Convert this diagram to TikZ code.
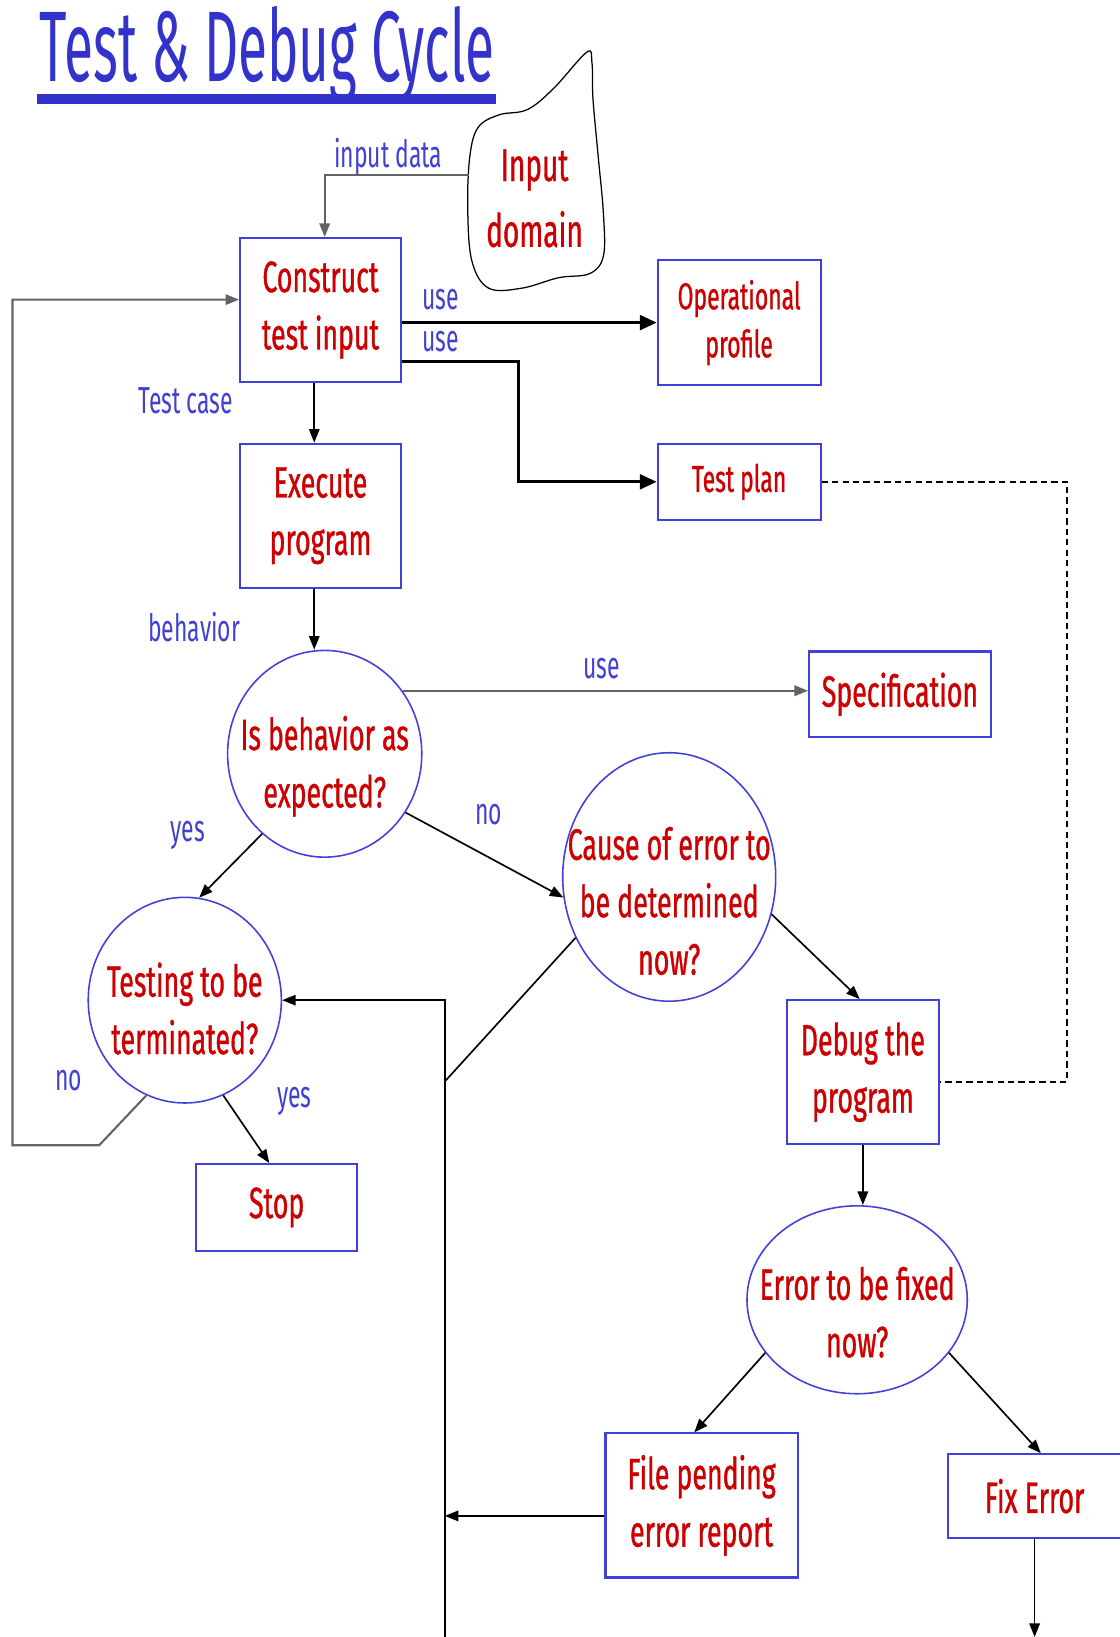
\documentclass[tikz,border=0pt]{standalone}
\usepackage{fontspec}
\setmainfont[FakeStretch=0.61,FakeBold=0.8]{Fira Sans}
\newfontfamily\dgtitlefont[FakeStretch=0.53]{Fira Sans}
\newfontfamily\dglabelfam[FakeStretch=0.61]{Fira Sans}
\usetikzlibrary{shapes.geometric,arrows.meta,calc}
\definecolor{txtred}{RGB}{204,0,0}
\definecolor{bblue}{RGB}{64,64,220}
\definecolor{lblue}{RGB}{64,64,210}
\definecolor{tblue}{RGB}{51,51,204}
\definecolor{lgray}{RGB}{100,100,100}
\newcommand\dgnodefont{\fontsize{42}{55}\selectfont}
\newcommand\dgsmallfont{\fontsize{36}{46}\selectfont}
\newcommand\dglabfont{\dglabelfam\fontsize{36}{40}\selectfont}
\tikzset{
 box/.style={draw=bblue,line width=2pt,inner sep=0pt,align=center,text=txtred,font=\dgnodefont},
 ell/.style={ellipse,draw=bblue,line width=1.5pt,inner sep=0pt},
 ntext/.style={inner sep=0pt,align=center,text=txtred,font=\dgnodefont},
 lab/.style={inner sep=0pt,text=lblue,font=\dglabfont},
 conn/.style={-{Triangle[length=13pt,width=10pt]},line width=1.6pt},
 bigconn/.style={-{Triangle[length=16pt,width=14pt]},line width=3pt},
 grayconn/.style={conn,draw=lgray,line width=2pt},
 plainline/.style={line width=1.6pt},
 dashline/.style={line width=2pt,dash pattern=on 6pt off 4pt},
}
\begin{document}
\begin{tikzpicture}[x=1pt,y=-1pt]
\useasboundingbox (0,0) rectangle (1072,1568);
\fill[white] (0,0) rectangle (1072,1568);

% title
\node[anchor=base west,inner sep=0pt,text=tblue,font=\dgtitlefont\fontsize{96}{100}\selectfont] (title) at (38,78) {Test \& Debug Cycle};
\fill[tblue] (35,90) rectangle (475,100);

% cloud
\node[ntext,font=\fontsize{44}{63}\selectfont] (dom) at (512,190) {Input\\domain};
\draw[line width=1.2pt] plot[smooth cycle, tension=0.6] coordinates {(562,50) (530,85) (505,105) (478,110) (458,122) (450,150) (448,200) (452,250) (468,276) (500,276) (535,266) (565,262) (578,245) (578,205) (573,150) (568,95) (567,60)};
\coordinate (domL) at (449,168);

% boxes
\node[box,minimum width=154,minimum height=138] (cons) at (307,297) {Construct\\test input};
\node[box,minimum width=156,minimum height=120,font=\dgsmallfont] (oper) at (708,309) {Operational\\profile};
\node[box,minimum width=156,minimum height=73,font=\dgsmallfont] (plan) at (708,461.5) {Test plan};
\node[box,minimum width=154,minimum height=138] (exec) at (307,494) {Execute\\program};
\node[box,minimum width=174,minimum height=82] (spec) at (862,665) {Specification};
\node[box,minimum width=145,minimum height=138] (debug) at (826.5,1027) {Debug the\\program};
\node[box,minimum width=154,minimum height=83] (stop) at (265,1156.5) {Stop};
\node[box,minimum width=184,minimum height=138] (file) at (672,1442) {File pending\\error report};
\node[box,minimum width=166,minimum height=80] (fix) at (991,1433) {Fix Error};

% decisions
\node[ell,minimum width=186,minimum height=198] (q1) at (311,722) {};
\node[ntext] (q1t) at (311,734) {Is behavior as\\expected?};
\node[ell,minimum width=204,minimum height=238] (q2) at (641,840) {};
\node[ntext] (q2t) at (641,863) {Cause of error to\\be determined\\now?};
\node[ell,minimum width=185,minimum height=197] (q3) at (177,958) {};
\node[ntext] (q3t) at (177,966) {Testing to be\\terminated?};
\node[ell,minimum width=211,minimum height=180] (q4) at (821,1245) {};
\node[ntext] (q4t) at (821,1257) {Error to be fixed\\now?};

% labels
\node[lab] (lin) at (372,150) {input data};
\node[lab] (luse1) at (422,287) {use};
\node[lab] (luse2) at (422,327) {use};
\node[lab] (ltc) at (178,384) {Test case};
\node[lab] (lbeh) at (186,601) {behavior};
\node[lab] (luse3) at (576,640) {use};
\node[lab] (lyes1) at (180,800) {yes};
\node[lab] (lno1) at (468,780) {no};
\node[lab] (lno2) at (66,1035) {no};
\node[lab] (lyes2) at (282,1055) {yes};

% waypoints
\coordinate (bus) at (426,958);
\coordinate (busbot) at (426,1575);
\coordinate (join) at (426,1036);
\coordinate (lpc1) at (95,1097);
\coordinate (lpc2) at (12,1097);
\coordinate (tpc) at (497,346);
\coordinate (dpc) at (1022,466);
\coordinate (fixend) at (990,1568);

% connectors
\draw[grayconn] (domL) -| ([xshift=4pt]cons.north);
\draw[grayconn] (q3.248) -- (lpc1) -- (lpc2) |- ([yshift=10pt]cons.west);
\draw[bigconn] (cons.east |- oper.west) -- (oper.west);
\draw[bigconn] ([yshift=-49pt]cons.east) -- (tpc) |- (plan.west);
\draw[conn] ([xshift=-6pt]cons.south) -- ([xshift=-6pt]exec.north);
\draw[conn] ([xshift=-6pt]exec.south) -- ([xshift=-6pt]exec.south |- q1.north);
\draw[grayconn] (q1.39) -- (q1.39 -| spec.west);
\draw[conn] (q1.232) -- (q3.82);
\draw[conn] (q1.324) -- (q2.191);
\draw[conn] (q2.340) -- ([xshift=-3pt]debug.north);
\draw[plainline] (q2.213) -- (join);
\draw[conn] (busbot) -- (bus) -- (q3.east);
\draw[conn] (q3.292) -- ([xshift=-7pt]stop.north);
\draw[conn] (debug.south) -- (debug.south |- q4.north);
\draw[dashline] (plan.east) -- (plan.east -| dpc) |- ([yshift=-9pt]debug.east);
\draw[conn] (q4.210) -- ([xshift=-7pt]file.north);
\draw[conn] (q4.330) -- ([xshift=6pt]fix.north);
\draw[conn] ([yshift=-10pt]file.west) -- ([yshift=-10pt]file.west -| bus);
\draw[conn] (fix.south) -- (fix.south |- fixend);
\end{tikzpicture}
\end{document}
